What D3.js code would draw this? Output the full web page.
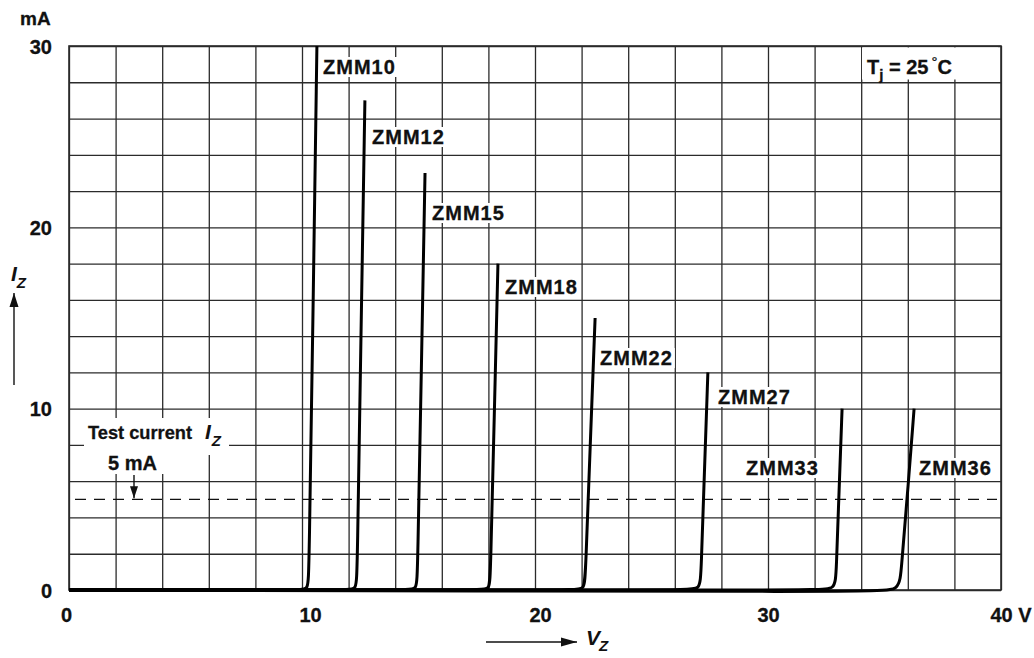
<!DOCTYPE html>
<html><head><meta charset="utf-8">
<script src="https://cdn.jsdelivr.net/npm/d3@7"></script>
<style>
body{margin:0;background:#fff;}
text{font-family:"Liberation Sans",Arial,Helvetica,sans-serif;font-weight:bold;fill:#111;}
</style>
</head><body>
<svg id="c" width="1034" height="658"></svg>
<script>
// ---------- data ----------
const xTicks = [0, 10, 20, 30, 40];
const yTicks = [0, 10, 20, 30];
const xGrid = [0,2,4,6,8,10,12,14,16,18,20,22,24,26,28,30,32,34,36,38,40];
const yGrid = [0,2,4,6,8,10,12,14,16,18,20,22,24,26,28,30];
const names = ["ZMM10","ZMM12","ZMM15","ZMM18","ZMM22","ZMM27","ZMM33","ZMM36"];
// [V_Z (V), I_Z (mA)]
const zmm10 = [[0,0],[9.9,0],[10.26,0],[10.3,1],[10.47,15],[10.64,30]];
const zmm12 = [[0,0],[11.95,0],[12.33,0],[12.37,1],[12.53,14],[12.70,27]];
const zmm15 = [[0,0],[14.55,0],[14.92,0],[14.96,1],[15.12,12],[15.28,23]];
const zmm18 = [[0,0],[17.7,0],[18.05,0],[18.09,1],[18.25,9.5],[18.41,18]];
const zmm22 = [[0,0],[21.7,0],[22.12,0],[22.17,1],[22.37,8],[22.58,15]];
const zmm27 = [[0,0],[26.5,0],[27.08,0],[27.13,1],[27.27,6.5],[27.42,12]];
const zmm33 = [[0,0],[32.1,0],[32.88,0],[32.93,1],[33.05,5.5],[33.18,10]];
const zmm36 = [[0,0],[34.6,-0.1],[35.65,-0.05],[35.72,1.2],[36.0,5.5],[36.27,10]];
const series = [zmm10,zmm12,zmm15,zmm18,zmm22,zmm27,zmm33,zmm36];
const testCurrent = 5;           // mA
const tjValue = "25";

// ---------- layout ----------
const x = d3.scaleLinear().domain([0,40]).range([69,1001]);
const y = d3.scaleLinear().domain([0,30]).range([590,46]);
const svg = d3.select("#c");
const gridColor = "#2b2b2b";
// label anchors (left, baseline) in pixels
const labelPos = [[323,74],[372,144],[432,220],[505,294],[600,365],[718,404],[746,475],[919,475]];

// grid
svg.append("g").attr("transform",`translate(0,${y(0)})`)
  .call(d3.axisBottom(x).tickValues(xGrid).tickSize(-(y(0)-y(30))).tickFormat(""))
  .call(g=>{g.select(".domain").remove();g.selectAll("line").attr("stroke",gridColor).attr("stroke-width",1.3);});
svg.append("g").attr("transform",`translate(${x(0)},0)`)
  .call(d3.axisLeft(y).tickValues(yGrid).tickSize(-(x(40)-x(0))).tickFormat(""))
  .call(g=>{g.select(".domain").remove();g.selectAll("line").attr("stroke",gridColor).attr("stroke-width",1.3);});
svg.append("rect").attr("x",x(0)).attr("y",y(30)).attr("width",x(40)-x(0)).attr("height",y(0)-y(30))
  .attr("fill","none").attr("stroke",gridColor).attr("stroke-width",1.6);

// tick labels
svg.append("g").attr("transform",`translate(0,${y(0)})`)
  .call(d3.axisBottom(x).tickValues(xTicks).tickSize(0).tickPadding(0).tickFormat(d=>d))
  .call(g=>{g.select(".domain").remove();
    g.selectAll("text").attr("y",32).attr("dy",0).attr("font-size",20).attr("fill","#111")
     .attr("font-family",'"Liberation Sans",Arial,sans-serif').attr("font-weight","bold")
     .attr("stroke","#111").attr("stroke-width",0.3)
     .attr("text-anchor",d=>d===40?"start":"middle").attr("x",d=>d===40?-11:(d===0?-3:(d===10?8:(d===20?5:0))))
     .text(d=>d===40?"40 V":d);});
svg.append("g").attr("transform",`translate(52,0)`)
  .call(d3.axisLeft(y).tickValues(yTicks).tickSize(0).tickPadding(0).tickFormat(d=>d))
  .call(g=>{g.select(".domain").remove();
    g.selectAll("text").attr("x",0).attr("dy",7).attr("font-size",20).attr("fill","#111")
     .attr("font-family",'"Liberation Sans",Arial,sans-serif').attr("font-weight","bold")
     .attr("stroke","#111").attr("stroke-width",0.3)
     .attr("text-anchor","end");});
svg.append("text").attr("x",20).attr("y",25).attr("font-size",19).attr("stroke","#111").attr("stroke-width",0.3).text("mA");

// white boxes behind labels
const boxes = svg.append("g");
boxes.append("rect").attr("x",862).attr("y",47.5).attr("width",136).attr("height",32).attr("fill","#fff");
boxes.append("rect").attr("x",84).attr("y",418).attr("width",145).attr("height",37).attr("fill","#fff");
boxes.append("rect").attr("x",100).attr("y",452).attr("width",66).attr("height",22).attr("fill","#fff");

// dashed test current line
svg.append("line").attr("x1",x(0)+6).attr("x2",x(40)-4).attr("y1",y(testCurrent)).attr("y2",y(testCurrent))
  .attr("stroke","#111").attr("stroke-width",1.3).attr("stroke-dasharray","11,8");

// curve labels (with white box)
const lblG = svg.append("g");
names.forEach((n,i)=>{
  const t = lblG.append("text").attr("x",labelPos[i][0]).attr("y",labelPos[i][1])
    .attr("font-size",20).attr("letter-spacing",1).attr("stroke","#111").attr("stroke-width",0.3).text(n);
  const bb = t.node().getBBox();
  lblG.insert("rect","text").attr("x",bb.x-3).attr("y",bb.y+1).attr("width",bb.width+5).attr("height",bb.height-2).attr("fill","#fff");
});

// curves
const line = d3.line().x(d=>x(d[0])).y(d=>y(d[1])).curve(d3.curveBasis);
svg.append("g").selectAll("path").data(series).join("path")
  .attr("d",line).attr("fill","none").attr("stroke","#000").attr("stroke-width",3)
  .attr("stroke-linejoin","round").attr("stroke-linecap","butt");

// Tj label
const tj = svg.append("text").attr("x",867).attr("y",74).attr("font-size",20).attr("stroke","#111").attr("stroke-width",0.3);
tj.append("tspan").text("T");
tj.append("tspan").attr("font-size",15).attr("dy",6).text("j");
tj.append("tspan").attr("dy",-6).text(" = " + tjValue);
tj.append("tspan").attr("font-size",15).attr("dy",-7).attr("dx",3).attr("font-weight","normal").text("°");
tj.append("tspan").attr("dy",7).text("C");

// Test current text
svg.append("text").attr("x",88).attr("y",439).attr("font-size",19).attr("textLength",104).attr("lengthAdjust","spacingAndGlyphs").attr("stroke","#111").attr("stroke-width",0.3).text("Test current");
const iz = svg.append("text").attr("x",205).attr("y",439).attr("font-size",21).attr("font-style","italic");
iz.append("tspan").text("I");
iz.append("tspan").attr("font-size",15).attr("dy",7).attr("dx",1).text("Z");
svg.append("text").attr("x",108).attr("y",470).attr("font-size",20).attr("stroke","#111").attr("stroke-width",0.3).text("5 mA");

// arrows
const arrow = (x1,y1,x2,y2,hl,hw)=>{
  svg.append("line").attr("x1",x1).attr("y1",y1).attr("x2",x2).attr("y2",y2).attr("stroke","#111").attr("stroke-width",1.4);
  const a=Math.atan2(y2-y1,x2-x1), c=Math.cos(a), s=Math.sin(a);
  const bx=x2-hl*c, by=y2-hl*s;
  svg.append("path").attr("d",`M${x2},${y2}L${bx-hw*s},${by+hw*c}L${bx+hw*s},${by-hw*c}Z`).attr("fill","#111");
};
arrow(134,475,134,y(testCurrent)-1,12,4);

// axis titles
arrow(14,385,14,293,14,4.5);
const iy = svg.append("text").attr("x",11).attr("y",281).attr("font-size",21).attr("font-style","italic");
iy.append("tspan").text("I");
iy.append("tspan").attr("font-size",15).attr("dy",7).attr("dx",0).text("Z");

arrow(486,642,577,642,16,4.5);
const vz = svg.append("text").attr("x",586).attr("y",645).attr("font-size",21).attr("font-style","italic");
vz.append("tspan").text("V");
vz.append("tspan").attr("font-size",15).attr("dy",6).attr("dx",-1).text("Z");
</script>
</body></html>
